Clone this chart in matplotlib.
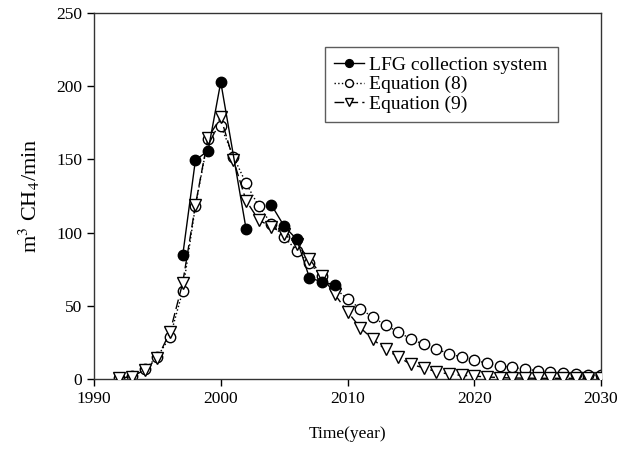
import numpy as np
import matplotlib
matplotlib.use("Agg")
import matplotlib.pyplot as plt

plt.rcParams['font.family'] = ['Liberation Serif', 'DejaVu Serif']
plt.rcParams['mathtext.fontset'] = 'stix'

lfg_years = [1997, 1998, 1999, 2000, 2002, 2003, 2004, 2005, 2006, 2007, 2008, 2009]
lfg_vals = [84.5, 149.5, 156, 203, 102.4, np.nan, 118.8, 104.4, 95.3, 69, 66.3, 64]

eq_years = list(range(1992, 2031))
eq8_vals = [0.5, 2, 6.5, 15, 28.7, 60, 118, 164, 173, 152, 133.6, 118, 106, 97,
            87.6, 79, 70, 62, 54.5, 48, 42, 36.7, 32, 27.2, 23.5, 20.3, 17.1,
            14.8, 12.8, 10.5, 8.9, 7.8, 6.6, 5.5, 4.8, 3.9, 3.2, 2.7, 2.3]
eq9_vals = [0.3, 1.5, 6, 14, 32, 65.7, 118.8, 165, 178.8, 149.6, 121.8, 108.5,
            104, 99, 92, 82, 70, 57.7, 45.8, 35, 27, 20, 15, 9.8, 7.5, 4.8,
            3.2, 2.3, 1.8, 1.2, 0.8, 0.5, 0.4, 0.3, 0.3, 0.3, 0.3, 0.3, 0.3]

labels = ["LFG collection system", "Equation (8)", "Equation (9)"]

fig = plt.figure(figsize=(6.28, 4.5), dpi=100)
ax = fig.add_axes([0.1497, 0.1584, 0.8073, 0.812])

h8, = ax.plot(eq_years, eq8_vals, linestyle=':', color='black', linewidth=1,
              marker='o', markersize=7.5, markerfacecolor='white',
              markeredgecolor='black', markeredgewidth=1, label=labels[1], zorder=2)
h9, = ax.plot(eq_years, eq9_vals, linestyle=(0, (7, 3)), color='black', linewidth=1,
              marker='v', markersize=8, markerfacecolor='white',
              markeredgecolor='black', markeredgewidth=1, label=labels[2], zorder=3)
hl, = ax.plot(lfg_years, lfg_vals, linestyle='-', color='black', linewidth=1,
              marker='o', markersize=7.5, markerfacecolor='black',
              markeredgecolor='black', label=labels[0], zorder=4)

ax.set_xlim(1990, 2030)
ax.set_ylim(0, 250)
ax.set_xticks([1990, 2000, 2010, 2020, 2030])
ax.set_yticks([0, 50, 100, 150, 200, 250])
ax.tick_params(direction='out', length=5, width=1, labelsize=12.5, top=False, right=False)
for s in ax.spines.values():
    s.set_linewidth(1)
    s.set_color('#333333')

ax.set_xlabel("Time(year)", fontsize=12.5, labelpad=14)
ax.set_ylabel("m$^3$ CH$_4$/min", fontsize=16, labelpad=10)

leg = ax.legend(handles=[hl, h8, h9], loc='upper left',
                bbox_to_anchor=(0.455, 0.908), fontsize=14, frameon=True,
                fancybox=False, edgecolor='#333333', handlelength=1.5,
                borderpad=0.5, labelspacing=0.08, handletextpad=0.3,
                borderaxespad=0, markerscale=0.75)
leg.get_frame().set_linewidth(1)

fig.savefig("out.png", dpi=100)
